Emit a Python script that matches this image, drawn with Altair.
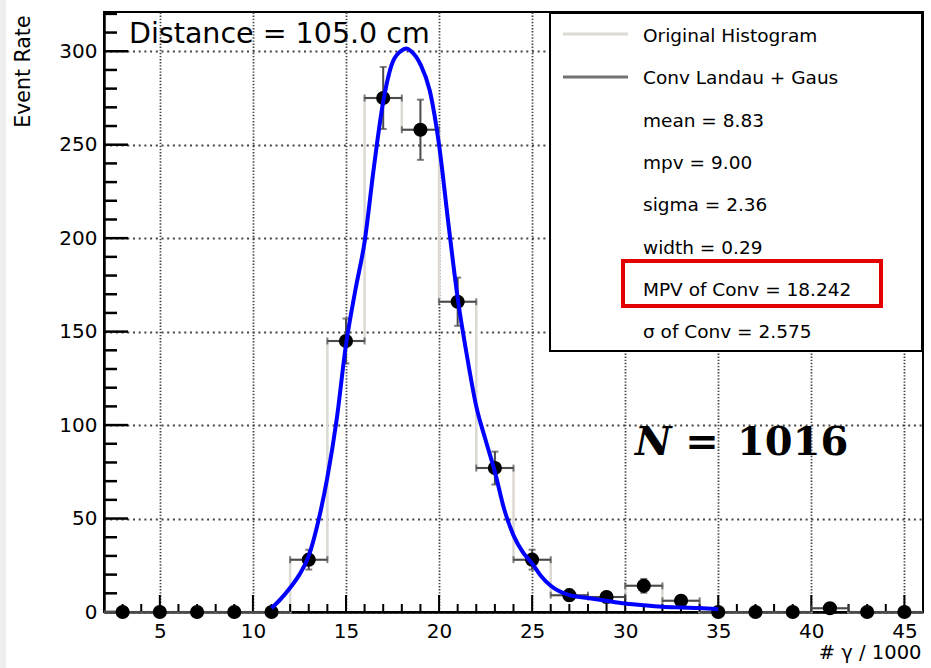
import altair as alt
import pandas as pd

# ---------------- data ----------------
bin_centers = [3, 5, 7, 9, 11, 13, 15, 17, 19, 21, 23, 25, 27, 29, 31, 33, 35, 37, 39, 41, 43, 45]
counts = [0, 0, 0, 0, 0, 28, 145, 275, 258, 166, 77, 28, 9, 8, 14, 6, 0, 0, 0, 2, 0, 0]
count_errors = [0, 0, 0, 0, 0, 5.3, 12.0, 16.6, 16.1, 12.9, 8.8, 5.3, 3.0, 2.8, 3.7, 2.4, 0, 0, 0, 1.4, 0, 0]
bin_edges = [2, 4, 6, 8, 10, 12, 14, 16, 18, 20, 22, 24, 26, 28, 30, 32, 34, 36, 38, 40, 42, 44, 46]

fit_x = [11.0, 11.5, 12.0, 12.5, 13.0, 13.5, 14.0, 14.5, 15.0, 15.5, 16.0, 16.5, 17.0, 17.5, 18.0,
         18.25, 18.5, 19.0, 19.5, 20.0, 20.5, 21.0, 21.5, 22.0, 22.5, 23.0, 23.5, 24.0, 24.5, 25.0,
         25.5, 26.0, 27.0, 28.0, 29.0, 30.0, 31.0, 32.0, 33.0, 34.0, 35.0]
fit_y = [2, 7, 13, 20, 30, 48, 72, 103, 143, 172, 198, 238, 273, 294, 300.5,
         301.5, 300, 293, 279, 250, 208, 168, 137, 110, 92, 75, 55, 41, 32, 26,
         19, 14, 9, 7.5, 6, 4.6, 3.6, 2.8, 2.4, 2.1, 1.5]

x_major = [5, 10, 15, 20, 25, 30, 35, 40, 45]
x_minor = [3, 4, 6, 7, 8, 9, 11, 12, 13, 14, 16, 17, 18, 19, 21, 22, 23, 24, 26, 27, 28, 29,
           31, 32, 33, 34, 36, 37, 38, 39, 41, 42, 43, 44]
y_major = [0, 50, 100, 150, 200, 250, 300]
y_minor = [10, 20, 30, 40, 60, 70, 80, 90, 110, 120, 130, 140, 160, 170, 180, 190,
           210, 220, 230, 240, 260, 270, 280, 290, 310, 320]

legend_labels = ["Original Histogram", "Conv Landau + Gaus", "mean = 8.83", "mpv = 9.00",
                 "sigma = 2.36", "width = 0.29", "MPV of Conv = 18.242", "σ of Conv = 2.575"]
title_text = "Distance = 105.0 cm"
x_title = "# γ / 1000"
y_title = "Event Rate"

# ---------------- tables ----------------
FONT = "DejaVu Sans"
W, H = 819, 600
xs = alt.Scale(domain=[2, 46], nice=False, zero=False)
ys = alt.Scale(domain=[0, 321], nice=False, zero=False)

hist_df = pd.DataFrame({"x": bin_edges, "y": counts + [counts[-1]]})
pts_df = pd.DataFrame({
    "x": bin_centers, "y": counts, "err": count_errors,
    "xlo": bin_edges[:-1], "xhi": bin_edges[1:],
})
pts_df["ylo"] = pts_df["y"] - pts_df["err"]
pts_df["yhi"] = pts_df["y"] + pts_df["err"]
err_df = pts_df[pts_df["y"] > 0]
fit_df = pd.DataFrame({"x": fit_x, "y": fit_y})
one = pd.DataFrame({"k": [0]})
leg_df = pd.DataFrame({"label": legend_labels, "i": list(range(len(legend_labels)))})

ERR_COL = "#4a4a4a"
GRID_COL = "#444444"

# axes (labels + dotted grid), identical in every layer so they merge cleanly
x_axis = alt.Axis(values=x_major, grid=True, ticks=False, tickSize=0, labelPadding=9,
                  labelFont=FONT, labelFontSize=20, labelColor="black",
                  domainColor="black", domainWidth=2.5,
                  gridColor=GRID_COL, gridDash=[1.4, 1.7], gridWidth=1.8,
                  title=x_title, titleFont=FONT, titleFontSize=19.5, titleFontWeight="normal",
                  titleColor="black", titleX=817, titleY=46, titleAlign="right",
                  titleBaseline="alphabetic", titleAnchor="end")
y_axis = alt.Axis(values=y_major, grid=True, ticks=False, tickSize=0, labelPadding=7,
                  labelFont=FONT, labelFontSize=20, labelColor="black",
                  domainColor="black", domainWidth=2.5,
                  gridColor=GRID_COL, gridDash=[2, 3.7], gridWidth=1.8,
                  title=y_title, titleFont=FONT, titleFontSize=20.5, titleFontWeight="normal",
                  titleColor="black", titleAngle=270, titleX=-81, titleY=3,
                  titleAlign="right", titleBaseline="middle", titleAnchor="end")


def X(field):
    return alt.X(field, scale=xs, axis=x_axis)


def Y(field):
    return alt.Y(field, scale=ys, axis=y_axis)


# light strip at the very left edge of the screenshot
strip = alt.Chart(one).mark_rect(fill="#eeeeee").encode(
    x=alt.value(-104), x2=alt.value(-98), y=alt.value(-12), y2=alt.value(H + 56))

hist = alt.Chart(hist_df).mark_line(interpolate="step-after", color="#dcd8d3", strokeWidth=2.5).encode(
    x=X("x:Q"), y=Y("y:Q"))

# inside tick marks (ROOT style)
xmaj = alt.Chart(pd.DataFrame({"v": x_major})).mark_rule(color="black", strokeWidth=2).encode(
    x=X("v:Q"), y=alt.value(H), y2=alt.value(H - 17))
xmin = alt.Chart(pd.DataFrame({"v": x_minor})).mark_rule(color="black", strokeWidth=2).encode(
    x=X("v:Q"), y=alt.value(H), y2=alt.value(H - 8))
ymaj = alt.Chart(pd.DataFrame({"v": y_major})).mark_rule(color="black", strokeWidth=2.5).encode(
    y=Y("v:Q"), x=alt.value(0), x2=alt.value(24))
ymin = alt.Chart(pd.DataFrame({"v": y_minor})).mark_rule(color="black", strokeWidth=2.5).encode(
    y=Y("v:Q"), x=alt.value(0), x2=alt.value(13))

# error bars
h_err = alt.Chart(pts_df).mark_rule(color=ERR_COL, strokeWidth=2).encode(
    x=X("xlo:Q"), x2="xhi:Q", y=Y("y:Q"))
h_capl = alt.Chart(err_df).mark_tick(color=ERR_COL, orient="vertical", size=7, thickness=2).encode(
    x=X("xlo:Q"), y=Y("y:Q"))
h_capr = alt.Chart(err_df).mark_tick(color=ERR_COL, orient="vertical", size=7, thickness=2).encode(
    x=X("xhi:Q"), y=Y("y:Q"))
v_err = alt.Chart(err_df).mark_rule(color=ERR_COL, strokeWidth=2).encode(
    x=X("x:Q"), y=Y("ylo:Q"), y2="yhi:Q")
v_capl = alt.Chart(err_df).mark_tick(color=ERR_COL, orient="horizontal", size=7, thickness=2).encode(
    x=X("x:Q"), y=Y("ylo:Q"))
v_caph = alt.Chart(err_df).mark_tick(color=ERR_COL, orient="horizontal", size=7, thickness=2).encode(
    x=X("x:Q"), y=Y("yhi:Q"))

points = alt.Chart(pts_df).mark_point(filled=True, color="black", size=200, opacity=1, shape="circle").encode(
    x=X("x:Q"), y=Y("y:Q"))

fit = alt.Chart(fit_df).mark_line(color="#0000ff", strokeWidth=4, interpolate="monotone").encode(
    x=X("x:Q"), y=Y("y:Q"))

# legend box (ROOT TLegend)
leg_box = alt.Chart(one).mark_rect(fill="white", stroke="black", strokeWidth=2).encode(
    x=alt.value(446), x2=alt.value(818), y=alt.value(1), y2=alt.value(339))
leg_l1 = alt.Chart(one).mark_rule(color="#dedad4", strokeWidth=3).encode(
    x=alt.value(459), x2=alt.value(524), y=alt.value(22))
leg_l2 = alt.Chart(one).mark_rule(color="#737373", strokeWidth=3).encode(
    x=alt.value(459), x2=alt.value(524), y=alt.value(65))
leg_text = alt.Chart(leg_df).transform_calculate(
    py="24 + 42.3 * datum.i"
).mark_text(align="left", baseline="middle", font=FONT, fontSize=18.5, color="black").encode(
    x=alt.value(539), y=alt.Y("py:Q", scale=None, axis=None), text="label:N")
red_box = alt.Chart(one).mark_rect(fillOpacity=0, stroke="#e50000", strokeWidth=4).encode(
    x=alt.value(519), x2=alt.value(777), y=alt.value(249), y2=alt.value(294))

title = alt.Chart(one).mark_text(align="left", baseline="alphabetic", font=FONT, fontSize=28.5,
                                 color="black").encode(
    x=alt.value(25), y=alt.value(31), text=alt.value(title_text))

n_sym = alt.Chart(one).mark_text(align="left", baseline="alphabetic", font="DejaVu Serif", fontSize=40,
                                 fontWeight="bold", fontStyle="italic", color="black").encode(
    x=alt.value(531), y=alt.value(443), text=alt.value("N"))
n_eq = alt.Chart(one).mark_text(align="center", baseline="alphabetic", font="DejaVu Serif", fontSize=40,
                                fontWeight="bold", color="black").encode(
    x=alt.value(598), y=alt.value(443), text=alt.value("="))
n_val = alt.Chart(one).mark_text(align="left", baseline="alphabetic", font="DejaVu Serif", fontSize=40,
                                 fontWeight="bold", color="black").encode(
    x=alt.value(633), y=alt.value(443), text=alt.value("1016"))

chart = alt.layer(
    strip, hist, xmaj, xmin, ymaj, ymin,
    h_err, h_capl, h_capr, v_err, v_capl, v_caph,
    points, fit,
    leg_box, leg_l1, leg_l2, leg_text, red_box,
    title, n_sym, n_eq, n_val,
).properties(
    width=W, height=H,
    padding={"left": 104, "top": 12, "right": 8, "bottom": 56},
    autosize=alt.AutoSizeParams(type="none"),
    background="white",
).configure_view(stroke="black", strokeWidth=2)

chart.save("out.html", embed_options={"renderer": "svg", "actions": False})
